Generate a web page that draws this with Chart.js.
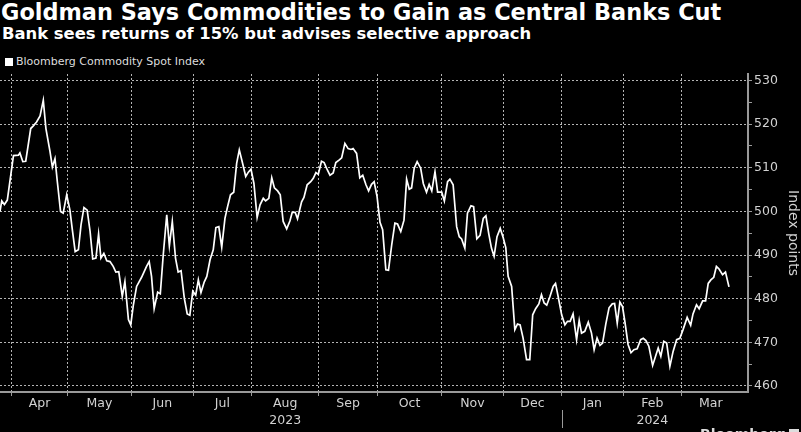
<!DOCTYPE html>
<html>
<head>
<meta charset="utf-8">
<script src="https://cdn.jsdelivr.net/npm/chart.js@4.4.0/dist/chart.umd.min.js"></script>
<style>
  html, body { margin: 0; padding: 0; background: #000; }
  body { width: 801px; height: 432px; position: relative; overflow: hidden; font-family: 'DejaVu Sans', sans-serif; color: #fff; }
  .title { position: absolute; left: 1px; top: 1px; font-size: 22.4px; font-weight: bold; line-height: 1; white-space: nowrap; }
  .subtitle { position: absolute; left: 2px; top: 26px; font-size: 16.4px; font-weight: bold; line-height: 1; white-space: nowrap; }
  .legend { position: absolute; left: 5px; top: 55px; font-size: 11px; color: #ddd; line-height: 14px; white-space: nowrap; }
  .swatch { display: inline-block; width: 8px; height: 8px; background: #fff; margin-right: 3px; vertical-align: -1px; }
  .chart-box { position: absolute; left: 0; top: 70px; width: 801px; height: 362px; }
  .brand { position: absolute; left: 700px; top: 426px; font-size: 14px; font-weight: bold; color: #ddd; white-space: nowrap; }
  .brand span { display: inline-block; width: 10px; height: 10px; background: #ddd; margin-left: 3px; }
</style>
</head>
<body>
<div class="title">Goldman Says Commodities to Gain as Central Banks Cut</div>
<div class="subtitle">Bank sees returns of 15% but advises selective approach</div>
<div class="legend"><span class="swatch"></span>Bloomberg Commodity Spot Index</div>
<div class="chart-box"><canvas id="chart"></canvas></div>
<div class="brand">Bloomberg<span></span></div>
<script>
// x = trading day, counted from the first trading day of April 2023
const tradingDay = [
  -4.0, -3.4, -2.5, -1.5, 0.6, 2.3, 2.8, 3.8, 4.8, 6.5, 7.4, 8.5, 9.7, 10.8, 11.7, 13.1, 13.9, 14.8, 15.6, 16.7,
  17.6, 18.8, 19.9, 20.8, 21.7, 22.8, 23.7, 24.7, 25.8, 26.8, 27.7, 28.8, 29.7, 30.5, 31.5, 32.5, 33.6, 34.7, 35.6, 36.6,
  37.8, 38.7, 39.9, 40.7, 41.6, 42.7, 44.4, 46.1, 47.0, 47.8, 48.7, 49.9, 50.8, 51.8, 53.0, 53.9, 54.9, 56.0, 56.9, 57.9,
  59.0, 60.0, 60.9, 61.9, 62.9, 63.8, 64.7, 65.8, 66.7, 67.8, 68.9, 69.8, 70.8, 71.8, 72.9, 73.8, 74.8, 75.9, 76.9, 77.8,
  78.8, 80.0, 80.9, 81.8, 82.8, 83.9, 84.9, 86.0, 86.8, 87.9, 88.9, 89.8, 90.9, 91.8, 92.8, 94.0, 95.1, 95.9, 96.9, 97.7,
  99.1, 99.9, 101.0, 102.2, 103.1, 104.0, 104.8, 105.9, 106.8, 107.9, 108.8, 109.9, 110.8, 112.0, 112.8, 113.9, 115.0, 116.0, 116.7, 117.9,
  119.0, 120.0, 121.1, 122.0, 123.0, 123.9, 124.9, 125.9, 126.8, 127.9, 128.8, 129.9, 131.0, 131.9, 133.0, 134.1, 135.0, 135.9, 136.7, 137.6,
  138.6, 139.8, 140.7, 141.8, 142.7, 143.6, 144.7, 145.6, 147.0, 147.9, 149.0, 149.8, 150.9, 152.1, 153.0, 153.8, 154.9, 155.8, 157.0, 157.9,
  159.0, 160.1, 161.2, 162.1, 163.1, 164.0, 164.9, 165.9, 167.0, 168.0, 168.9, 169.7, 170.9, 172.0, 172.9, 173.8, 174.8, 176.0, 177.1, 178.1,
  179.1, 180.2, 181.1, 182.0, 182.9, 184.0, 185.1, 185.9, 186.8, 188.0, 189.1, 190.0, 190.9, 191.9, 193.1, 194.0, 194.8, 195.9, 197.1, 198.2,
  199.1, 200.1, 201.1, 202.0, 203.1, 204.2, 205.3, 206.1, 207.0, 207.9, 208.8, 209.6, 210.7, 211.7, 212.7, 213.8, 215.0, 215.9, 216.8, 217.8,
  219.1, 220.1, 221.0, 221.9, 222.9, 223.9, 225.0, 226.1, 227.3, 228.4, 229.5, 230.9, 232.1, 232.9, 234.1, 235.0, 236.2, 237.2, 238.1, 239.0,
  240.0, 240.9, 241.8, 243.0, 244.0, 245.2
];
const spotIndex = [
  500.0, 502.4, 501.6, 502.6, 512.8, 512.9, 513.4, 511.4, 511.5, 519.0, 519.6, 520.5, 521.9, 525.5, 519.0, 513.7, 510.2, 512.1, 506.8, 500.0,
  499.6, 503.8, 500.3, 495.4, 490.8, 491.2, 496.9, 500.9, 500.3, 495.4, 489.1, 489.3, 494.8, 489.3, 490.4, 488.7, 488.5, 487.4, 486.1, 486.2,
  480.5, 483.9, 475.2, 474.0, 478.6, 482.8, 484.9, 487.4, 488.5, 485.1, 477.7, 481.5, 481.1, 490.0, 499.2, 492.1, 497.7, 489.3, 486.1, 486.4,
  480.1, 476.5, 476.2, 481.7, 480.8, 484.3, 481.4, 483.8, 485.1, 488.9, 491.2, 496.3, 496.5, 491.8, 498.4, 501.1, 503.8, 504.4, 511.0, 514.1,
  511.4, 508.0, 509.0, 509.7, 506.4, 498.6, 501.5, 503.0, 502.4, 503.0, 507.7, 505.4, 504.7, 503.8, 497.7, 496.0, 497.8, 499.8, 499.8, 498.3,
  502.2, 503.2, 506.1, 506.8, 507.6, 508.9, 508.5, 511.5, 511.2, 509.5, 508.3, 508.8, 511.2, 511.8, 512.3, 515.6, 514.4, 514.2, 514.4, 513.3,
  507.7, 508.3, 506.1, 504.7, 506.2, 506.8, 503.4, 497.5, 495.8, 486.6, 486.5, 492.3, 497.3, 497.1, 495.4, 498.0, 507.4, 505.1, 505.4, 509.9,
  511.4, 509.9, 506.4, 504.4, 506.2, 504.7, 509.1, 504.4, 504.4, 502.4, 506.8, 507.4, 506.1, 496.5, 494.2, 493.7, 491.6, 499.6, 501.3, 501.1,
  493.7, 494.5, 498.4, 499.0, 494.8, 491.6, 489.7, 494.2, 496.1, 494.0, 491.7, 485.1, 482.8, 472.9, 474.2, 474.0, 471.0, 466.0, 466.0, 476.3,
  477.7, 478.8, 480.9, 479.0, 478.5, 480.5, 482.8, 483.5, 480.5, 476.3, 474.0, 474.8, 474.8, 476.5, 470.6, 475.0, 472.1, 472.5, 474.6, 472.1,
  468.3, 471.0, 469.3, 469.8, 474.2, 477.9, 478.8, 478.9, 474.4, 479.2, 478.2, 474.8, 469.5, 467.6, 468.3, 468.5, 470.6, 470.9, 470.4, 469.1,
  464.7, 466.8, 468.7, 466.8, 470.2, 469.8, 464.5, 467.9, 470.6, 470.9, 472.9, 475.7, 473.9, 476.5, 478.6, 477.7, 479.5, 479.5, 483.5, 484.3,
  484.9, 487.4, 486.8, 485.5, 486.1, 482.7
];

// first trading day of each month, and the middle of each month for its label
const monthStarts = [0, 19, 41, 62, 82, 105, 125, 147, 168, 188, 209, 229];
const monthMids = [9.5, 30, 51.5, 72, 93.5, 115, 136, 157.5, 178, 198.5, 219, 239];
const monthLabels = ['Apr', 'May', 'Jun', 'Jul', ['Aug', '2023'], 'Sep', 'Oct', 'Nov', 'Dec', 'Jan', ['Feb', '2024'], 'Mar'];
const yearBreak = 188;

const yLabels = [460, 470, 480, 490, 500, 510, 520, 530];
const yMinor = [465, 475, 485, 495, 505, 515, 525];

const gridColor = '#b4b4b4';
const axisColor = '#9a9a9a';
const textColor = '#d2d2d2';
const tickFont = { family: "'DejaVu Sans', sans-serif", size: 12.5, lineHeight: 1.3 };

const isMonthStart = (ctx) => ctx.tick !== undefined && monthStarts.indexOf(Number(ctx.tick.value)) >= 0;
const isMajorY = (ctx) => ctx.tick !== undefined && yLabels.indexOf(Number(ctx.tick.value)) >= 0;

const yearDivider = {
  id: 'yearDivider',
  afterDraw(chart) {
    const { ctx, chartArea } = chart;
    const x = Math.round(chart.scales.x.getPixelForValue(yearBreak)) + 0.5;
    ctx.save();
    ctx.strokeStyle = axisColor;
    ctx.lineWidth = 1;
    ctx.beginPath();
    ctx.moveTo(x, chartArea.bottom + 18);
    ctx.lineTo(x, chartArea.bottom + 36);
    ctx.stroke();
    ctx.restore();
  },
};

new Chart(document.getElementById('chart'), {
  type: 'line',
  data: {
    datasets: [{
      label: 'Bloomberg Commodity Spot Index',
      data: tradingDay.map((d, i) => ({ x: d, y: spotIndex[i] })),
      borderColor: '#ffffff',
      borderWidth: 1.7,
      pointRadius: 0,
      tension: 0,
    }],
  },
  options: {
    responsive: true,
    maintainAspectRatio: false,
    animation: false,
    layout: { padding: { top: 4, left: 0, right: 0, bottom: 0 } },
    plugins: { legend: { display: false }, tooltip: { enabled: false } },
    scales: {
      x: {
        type: 'linear',
        min: -4,
        max: 251.7,
        afterBuildTicks: (scale) => {
          scale.ticks = monthStarts.concat(monthMids).sort((a, b) => a - b).map((v) => ({ value: v }));
        },
        afterFit: (scale) => {
          scale.height = 40;
          scale.paddingLeft = 0;
          scale.paddingRight = 0;
        },
        grid: {
          lineWidth: (ctx) => (isMonthStart(ctx) ? 1 : 0),
          color: gridColor,
          tickColor: axisColor,
          tickLength: 4,
        },
        border: { display: true, color: axisColor, width: 2, dash: [2, 2] },
        ticks: {
          autoSkip: false,
          maxRotation: 0,
          padding: 0,
          color: textColor,
          font: tickFont,
          callback: (value) => {
            const i = monthMids.indexOf(value);
            return i >= 0 ? monthLabels[i] : '';
          },
        },
      },
      y: {
        position: 'right',
        min: 458.6,
        max: 531.5,
        afterBuildTicks: (scale) => {
          scale.ticks = yLabels.concat(yMinor).sort((a, b) => a - b).map((v) => ({ value: v }));
        },
        afterFit: (scale) => {
          scale.width = 53;
          scale.paddingTop = 0;
          scale.paddingBottom = 0;
        },
        grid: {
          color: (ctx) => (isMajorY(ctx) ? gridColor : 'rgba(0,0,0,0)'),
          tickColor: axisColor,
          tickWidth: 1,
          tickLength: 4,
        },
        border: { display: true, color: axisColor, width: 2, dash: [2, 2] },
        ticks: {
          padding: 2,
          color: textColor,
          font: tickFont,
          callback: (value) => (yLabels.includes(value) ? value : ''),
        },
        title: {
          display: true,
          text: 'Index points',
          color: textColor,
          font: { family: "'DejaVu Sans', sans-serif", size: 14 },
          padding: 0,
        },
      },
    },
  },
  plugins: [yearDivider],
});
</script>
</body>
</html>
